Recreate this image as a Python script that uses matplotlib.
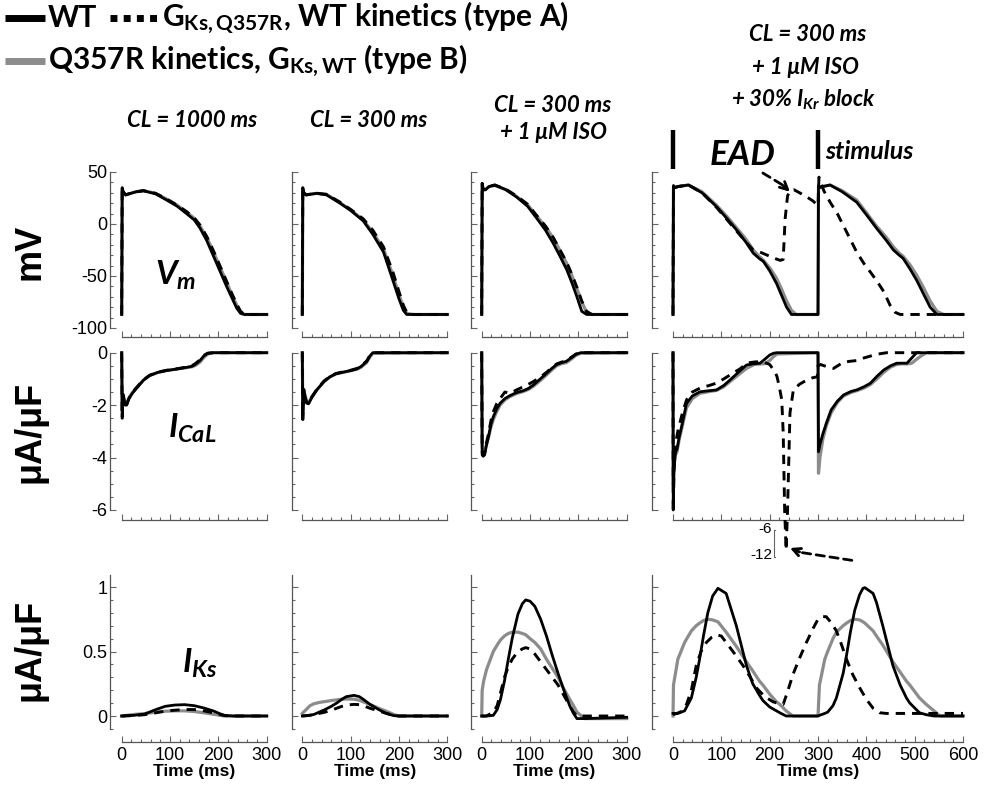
import matplotlib.pyplot as plt
import numpy as np
from matplotlib.ticker import MultipleLocator, FormatStrFormatter

plt.rcParams['font.family'] = ['Liberation Sans', 'DejaVu Sans']
plt.rcParams['mathtext.fontset'] = 'custom'
plt.rcParams['mathtext.it'] = 'Lato:italic:bold'
plt.rcParams['mathtext.rm'] = 'Lato:bold'
plt.rcParams['mathtext.bf'] = 'Lato:bold'

# ---------------- data ----------------
# row 1: membrane potential (mV)
t_v1 = [0, 1, 3, 8, 15, 30, 45, 70, 93, 115, 134, 150, 162, 176, 190, 204, 217, 228, 238, 246, 254, 270, 300]
v1_wt = [-87, 35, 31, 28, 29, 31, 32, 29, 23, 17, 10, 4, -4, -16, -31, -46, -60, -71, -81, -86, -87, -87, -87]
v1_a = [-87, 35, 31, 28, 29, 31, 32, 29.5, 24, 18, 12, 6, -1, -12, -26, -41, -55, -67, -77, -84, -87, -87, -87]
v1_b = [-87, 34, 31, 28, 29, 31, 32, 29.5, 24, 18, 11.5, 5.5, -2, -13, -27, -42, -56, -68, -78, -85, -87, -87, -87]

t_v2 = [0, 1, 3, 8, 15, 30, 50, 78, 100, 126, 146, 168, 188, 200, 209, 216, 230, 300]
v2_wt = [-87, 35, 30, 28, 28.5, 29.5, 28, 20, 13, 3, -10, -27, -55, -72, -83, -87, -87, -87]
v2_a = [-87, 35, 30, 28, 28.5, 29.5, 28.5, 21, 14, 5, -6, -22, -47, -65, -78, -85, -87, -87]
v2_b = [-87, 34, 30, 28, 28.5, 29.5, 28.5, 20.5, 13.5, 4, -8, -24, -50, -68, -80, -86, -87, -87]

t_v3 = [0, 1, 3, 8, 15, 27, 50, 72, 95, 114, 132, 148, 162, 176, 187, 197, 207, 217, 228, 300]
v3_wt = [-87, 39, 33, 33, 36, 37.5, 33, 26, 17, 5.4, -6, -18.6, -31, -44, -57, -70, -84, -87, -87, -87]
v3_a = [-87, 39, 33, 33, 36, 37.5, 33.5, 27, 19, 8, -2, -13, -25, -37, -49, -61, -74, -84, -87, -87]
v3_b = [-87, 38, 33, 33, 36, 37, 33, 26.5, 18.5, 7.5, -2.5, -13.5, -25.5, -38, -50, -62, -75, -85, -87, -87]

t_v4 = [0, 1, 4, 10, 32, 60, 90, 112, 132, 150, 166, 178, 187, 200, 214, 225, 235, 245, 255, 299,
        300, 301, 304, 310, 325, 350, 380, 400, 421, 440, 456, 468, 476, 490, 504, 518, 532, 546, 560, 600]
v4_wt = [-87, 37, 35, 36, 37.5, 30, 16.7, 5, -6, -17, -28, -33, -36, -45, -57, -69, -80, -87, -87, -87,
         -87, 37, 35, 36, 37.5, 31, 21, 9, -4, -15, -25, -30, -33, -43, -54, -67, -80, -87, -87, -87]
v4_b = [-87, 36, 35, 36, 37.5, 31, 18, 7, -4, -14, -25, -31, -35, -42, -52, -63, -74, -83, -87, -87,
        -87, 36, 35, 36, 37.5, 32, 23, 11, -2, -12, -22, -28, -31, -39, -49, -61, -74, -84, -87, -87]
t_v4a = [0, 1, 4, 10, 32, 60, 90, 112, 132, 150, 166, 180, 195, 210, 222, 228, 232, 237, 242, 250, 262, 277, 290, 299,
         300, 302, 306, 312, 325, 340, 353, 366, 380, 395, 408, 422, 436, 449, 460, 470, 600]
v4_a = [-87, 37, 35, 36, 37.5, 30, 16, 4, -7, -17, -25, -27, -30, -33, -35, -34, 5, 27, 32, 33, 30, 26, 22, 18,
        18, 45, 40, 32, 21, 10, -2, -14, -27, -38, -46, -55, -65, -78, -85, -87, -87]

# row 2: I_CaL (uA/uF)
t_c1 = [0, 1, 3, 5, 7, 10, 15, 22, 31, 45, 58, 75, 93, 115, 134, 145, 152, 162, 170, 178, 190, 300]
c1_wt = [0, -2.45, -1.6, -1.8, -2.0, -2.0, -1.75, -1.55, -1.35, -1.05, -0.87, -0.75, -0.68, -0.62, -0.56, -0.52, -0.45, -0.3, -0.12, -0.02, 0, 0]
c1_a = [0, -2.5, -1.7, -1.85, -2.05, -2.0, -1.75, -1.52, -1.32, -1.03, -0.86, -0.74, -0.67, -0.61, -0.55, -0.5, -0.42, -0.27, -0.1, -0.02, 0, 0]
c1_b = [0, -2.2, -1.6, -1.75, -1.95, -1.95, -1.72, -1.52, -1.33, -1.04, -0.87, -0.75, -0.68, -0.62, -0.57, -0.54, -0.49, -0.36, -0.18, -0.05, 0, 0]

t_c2 = [0, 1, 3, 6, 9, 13, 20, 30, 45, 57, 70, 85, 100, 113, 122, 133, 140, 146, 300]
c2_wt = [0, -2.5, -1.4, -1.7, -1.9, -1.95, -1.7, -1.42, -1.1, -0.92, -0.8, -0.74, -0.68, -0.62, -0.52, -0.34, -0.12, 0, 0]
c2_a = [0, -2.55, -1.5, -1.75, -1.92, -1.95, -1.68, -1.4, -1.08, -0.9, -0.79, -0.73, -0.67, -0.6, -0.5, -0.32, -0.1, 0, 0]
c2_b = [0, -2.2, -1.4, -1.65, -1.85, -1.9, -1.68, -1.42, -1.1, -0.93, -0.81, -0.75, -0.69, -0.63, -0.55, -0.38, -0.16, -0.02, 0]

t_c3 = [0, 1, 3, 6, 9, 14, 19, 24, 31, 38, 48, 58, 72, 86, 97, 107, 120, 134, 145, 155, 165, 175, 185, 195, 205, 300]
c3_wt = [0, -3.9, -3.95, -3.9, -3.6, -3.2, -2.75, -2.44, -2.15, -1.93, -1.75, -1.64, -1.52, -1.45, -1.36, -1.23, -1.02, -0.79, -0.6, -0.45, -0.38, -0.33, -0.2, -0.06, 0, 0]
c3_a = [0, -3.8, -3.9, -3.85, -3.5, -3.1, -2.6, -2.25, -1.95, -1.75, -1.5, -1.55, -1.42, -1.3, -1.2, -1.1, -0.95, -0.75, -0.57, -0.43, -0.36, -0.3, -0.18, -0.05, 0, 0]
c3_b = [0, -3.6, -3.8, -3.8, -3.55, -3.25, -2.85, -2.55, -2.25, -2.0, -1.8, -1.68, -1.56, -1.48, -1.4, -1.28, -1.08, -0.85, -0.66, -0.5, -0.42, -0.38, -0.25, -0.1, -0.02, 0]

t_c4 = [0, 0.5, 2, 5, 8, 13, 18, 28, 40, 56, 75, 90, 105, 118, 135, 152, 168, 180, 190, 200, 208, 215, 299,
        300, 301, 304, 310, 317, 327, 340, 353, 368, 380, 395, 408, 422, 436, 450, 463, 475, 484, 494, 504, 515, 525, 600]
c4_wt = [0, -6, -4.5, -3.8, -3.7, -3.2, -2.8, -1.93, -1.65, -1.49, -1.45, -1.42, -1.25, -1.04, -0.75, -0.47, -0.42, -0.4, -0.25, -0.09, -0.02, 0, 0,
         0, -3.78, -3.5, -3.1, -2.7, -2.19, -1.85, -1.61, -1.48, -1.42, -1.3, -1.17, -0.9, -0.66, -0.5, -0.4, -0.4, -0.4, -0.2, 0, 0, 0, 0]
c4_b = [0, -5, -4.2, -3.9, -3.8, -3.3, -2.9, -2.1, -1.75, -1.55, -1.48, -1.44, -1.3, -1.1, -0.85, -0.6, -0.45, -0.43, -0.42, -0.3, -0.15, -0.05, 0,
        0, -4.6, -4.0, -3.3, -2.8, -2.3, -1.9, -1.65, -1.52, -1.45, -1.35, -1.22, -1.0, -0.75, -0.55, -0.45, -0.42, -0.43, -0.4, -0.25, -0.1, 0, 0]
t_c4a = [0, 0.5, 2, 5, 10, 18, 28, 40, 56, 75, 90, 105, 124, 140, 152, 170, 187, 200, 210, 215,
         220, 225, 228, 231, 234, 237, 242, 249, 262, 277, 290, 299, 300, 305, 318, 332, 345, 352, 365, 380, 395, 408, 425, 442, 600]
c4_a = [0, -6, -4.5, -3.5, -3.0, -2.4, -1.8, -1.5, -1.35, -1.25, -1.16, -1.0, -0.78, -0.6, -0.4, -0.35, -0.35, -0.45, -0.7, -0.9,
        -1.3, -1.8, -3.05, -6, -12, -6, -2.3, -1.42, -1.2, -1.04, -0.95, -0.92, -0.5, -0.45, -0.53, -0.6, -0.45, -0.37, -0.33, -0.3, -0.2, -0.13, -0.05, 0, 0]

# row 3: I_Ks (uA/uF)
t_k1 = [0, 25, 47, 71, 90, 110, 130, 150, 170, 189, 205, 213, 230, 300]
k1_wt = [0, 0.005, 0.015, 0.05, 0.075, 0.085, 0.088, 0.08, 0.062, 0.04, 0.015, 0.005, 0, 0]
k1_a = [0, 0.003, 0.01, 0.025, 0.038, 0.045, 0.05, 0.05, 0.04, 0.025, 0.01, 0.003, 0, 0]
k1_b = [0, 0.012, 0.018, 0.03, 0.037, 0.04, 0.04, 0.035, 0.025, 0.014, 0.004, 0, 0, 0]

t_k2 = [0, 8, 16, 24, 35, 47, 60, 71, 82, 91, 107, 118, 126, 140, 158, 174, 189, 200, 300]
k2_wt = [0, 0.003, 0.006, 0.012, 0.03, 0.05, 0.075, 0.1, 0.13, 0.15, 0.16, 0.15, 0.13, 0.09, 0.05, 0.02, 0.003, 0, 0]
k2_a = [0, 0.002, 0.006, 0.01, 0.02, 0.03, 0.045, 0.06, 0.075, 0.085, 0.09, 0.088, 0.08, 0.06, 0.04, 0.02, 0.005, 0, 0]
k2_b = [0.02, 0.05, 0.08, 0.095, 0.105, 0.112, 0.12, 0.125, 0.13, 0.132, 0.13, 0.122, 0.11, 0.09, 0.06, 0.037, 0.012, 0, 0]

t_k3 = [0, 1, 4, 10, 24, 32, 39, 47, 55, 63, 75, 84, 91, 100, 110, 122, 134, 146, 158, 170, 182, 190, 197, 213, 300]
k3_wt = [0, 0, 0, 0, 0.005, 0.05, 0.13, 0.27, 0.44, 0.6, 0.79, 0.87, 0.9, 0.89, 0.85, 0.75, 0.62, 0.47, 0.33, 0.2, 0.08, 0.02, -0.02, -0.02, -0.01]
k3_a = [0, 0, 0, 0, 0.03, 0.08, 0.18, 0.3, 0.38, 0.44, 0.5, 0.52, 0.53, 0.52, 0.48, 0.42, 0.36, 0.3, 0.24, 0.16, 0.08, 0.03, 0, 0, 0]
k3_b = [0, 0.2, 0.27, 0.36, 0.5, 0.55, 0.59, 0.62, 0.64, 0.65, 0.65, 0.64, 0.63, 0.6, 0.57, 0.52, 0.44, 0.37, 0.3, 0.21, 0.13, 0.08, 0.03, -0.02, -0.02]

t_k4 = [0, 1, 10, 24, 38, 48, 55, 63, 72, 82, 93, 110, 131, 152, 165, 179, 186, 200, 214, 221,
        234, 248, 299, 300, 303, 314, 320, 331, 338, 352, 359, 367, 376, 386, 393, 397, 414, 421, 434, 455,
        470, 483, 490, 510, 524, 540, 552, 600]
k4_wt = [0.02, 0.02, 0.02, 0.04, 0.14, 0.3, 0.44, 0.62, 0.8, 0.93, 0.99, 0.95, 0.7, 0.39, 0.25, 0.16, 0.12, 0.07, 0.04, 0.025,
         0, 0, 0, 0, 0.005, 0.02, 0.03, 0.08, 0.14, 0.33, 0.47, 0.65, 0.82, 0.94, 0.99, 0.995, 0.95, 0.88, 0.7, 0.39,
         0.24, 0.14, 0.1, 0.025, 0.01, 0, 0, 0]
k4_b = [0, 0.24, 0.44, 0.57, 0.66, 0.7, 0.72, 0.74, 0.75, 0.745, 0.73, 0.65, 0.54, 0.42, 0.35, 0.27, 0.24, 0.17, 0.11, 0.09,
        0.04, 0, 0, 0, 0.24, 0.44, 0.5, 0.6, 0.65, 0.7, 0.72, 0.74, 0.75, 0.745, 0.73, 0.72, 0.66, 0.62, 0.55, 0.42,
        0.34, 0.27, 0.24, 0.14, 0.09, 0.04, 0, 0]
t_k4a = [0, 15, 28, 38, 48, 58, 69, 80, 90, 100, 110, 128, 145, 160, 172, 190, 207, 220, 228, 238,
         248, 262, 276, 290, 300, 310, 317, 328, 338, 348, 359, 372, 386, 400, 414, 428, 441, 600]
k4_a = [0.01, 0.03, 0.09, 0.2, 0.39, 0.5, 0.57, 0.61, 0.63, 0.62, 0.57, 0.48, 0.39, 0.3, 0.22, 0.15, 0.11, 0.095, 0.09, 0.2,
        0.32, 0.45, 0.57, 0.68, 0.75, 0.77, 0.77, 0.72, 0.66, 0.56, 0.44, 0.32, 0.22, 0.13, 0.06, 0.025, 0.02, 0.02]

# ---------------- layout ----------------
W, H = 987, 789
fig = plt.figure(figsize=(W / 100, H / 100), dpi=100)
GRAY = '#8c8c8c'
DASH = (0, (3.2, 2.4))

col_px = [(121.7, 266.7), (302.3, 447.3), (481.7, 626.7), (673, 963)]
col_off = [11.5, 10.5, 10.5, 21]
row_px = [(172, 328), (352.7, 510), (575.4, 728.9)]
row_off = [9, 10, 13]
row_lim = [(-100, 50), (-6, 0), (-0.1, 1.09)]
row_major = [50, 2, 0.5]
row_minor = [10, 0.5, 0.1]


def px_axes(x0, x1, y0, y1):
    return fig.add_axes([x0 / W, 1 - y1 / H, (x1 - x0) / W, (y1 - y0) / H])


def style(ax, row, col):
    tend = 600 if col == 3 else 300
    ax.set_xlim(0, tend)
    ax.set_ylim(*row_lim[row])
    ax.patch.set_visible(False)
    for s in ('top', 'right'):
        ax.spines[s].set_visible(False)
    ax.spines['left'].set_position(('outward', col_off[col] * 0.72))
    ax.spines['bottom'].set_position(('outward', row_off[row] * 0.72))
    ax.spines['bottom'].set_bounds(0, tend)
    for s in ('left', 'bottom'):
        ax.spines[s].set_color('#555555')
        ax.spines[s].set_linewidth(0.9)
    ax.xaxis.set_major_locator(MultipleLocator(100))
    ax.xaxis.set_minor_locator(MultipleLocator(20))
    ax.yaxis.set_major_locator(MultipleLocator(row_major[row]))
    ax.yaxis.set_minor_locator(MultipleLocator(row_minor[row]))
    ax.yaxis.set_major_formatter(FormatStrFormatter('%g'))
    ax.tick_params(which='both', direction='in', color='#666666', width=0.8, labelsize=13, pad=2)
    ax.tick_params(which='major', length=4)
    ax.tick_params(which='minor', length=2.5)
    if col > 0:
        ax.set_yticklabels([])
    if row < 2:
        ax.set_xticklabels([])
    else:
        ax.set_xlabel('Time (ms)', fontsize=12.5, fontweight='bold', labelpad=0)
        ax.tick_params(axis='x', pad=4)


def traces(ax, tw, wt, ta, a, tb, b, a_y=None):
    ax.plot(tb, b, color=GRAY, lw=2.3, zorder=2, clip_on=False)
    ax.plot(tw, wt, color='k', lw=2.0, zorder=3, clip_on=False)
    ax.plot(ta, a if a_y is None else a_y, color='k', lw=2.1, ls=DASH, zorder=4, clip_on=False)


panels = [
    [(t_v1, v1_wt, t_v1, v1_a, t_v1, v1_b), (t_v2, v2_wt, t_v2, v2_a, t_v2, v2_b),
     (t_v3, v3_wt, t_v3, v3_a, t_v3, v3_b), (t_v4, v4_wt, t_v4a, v4_a, t_v4, v4_b)],
    [(t_c1, c1_wt, t_c1, c1_a, t_c1, c1_b), (t_c2, c2_wt, t_c2, c2_a, t_c2, c2_b),
     (t_c3, c3_wt, t_c3, c3_a, t_c3, c3_b), (t_c4, c4_wt, t_c4a, c4_a, t_c4, c4_b)],
    [(t_k1, k1_wt, t_k1, k1_a, t_k1, k1_b), (t_k2, k2_wt, t_k2, k2_a, t_k2, k2_b),
     (t_k3, k3_wt, t_k3, k3_a, t_k3, k3_b), (t_k4, k4_wt, t_k4a, k4_a, t_k4, k4_b)],
]

axes = {}
for r in range(3):
    for c in range(4):
        ax = px_axes(col_px[c][0], col_px[c][1], row_px[r][0], row_px[r][1])
        style(ax, r, c)
        tw, wt, ta, a, tb, b = panels[r][c]
        a_y = None
        if r == 1 and c == 3:
            # values below -6 are drawn on a compressed scale under the axis
            arr = np.array(a, dtype=float)
            a_y = np.where(arr < -6, -6 + (arr + 6) * 0.255, arr)
        traces(ax, tw, wt, ta, a, tb, b, a_y)
        axes[(r, c)] = ax

ax_v4 = axes[(0, 3)]
ax_c4 = axes[(1, 3)]

# stimulus markers and EAD annotation
for ts in (0, 300):
    ax_v4.plot([ts, ts], [53, 90], color='k', lw=3.2, clip_on=False, solid_capstyle='butt')
ax_v4.text(145, 66, 'EAD', fontsize=25, fontweight='bold', style='italic', family='Lato',
           ha='center', va='center')
ax_v4.text(314, 70, 'stimulus', fontsize=18, fontweight='bold', style='italic', family='Lato',
           ha='left', va='center')
ax_v4.annotate('', xy=(232, 36), xytext=(186, 49), annotation_clip=False,
               arrowprops=dict(arrowstyle='-', ls=(0, (3, 2)), lw=2, color='k', shrinkA=0, shrinkB=0))
ax_v4.annotate('', xy=(242, 31), xytext=(228, 37), annotation_clip=False,
               arrowprops=dict(arrowstyle='->', lw=2, color='k', shrinkA=0, shrinkB=0, mutation_scale=14))

# compressed -6 / -12 scale under the I_CaL panel
ax_c4.plot([212, 209, 209, 212], [-6.75, -6.75, -7.8, -7.8], color='#666666', lw=0.8, clip_on=False)
ax_c4.text(205, -6.72, '-6', fontsize=11, ha='right', va='center')
ax_c4.text(205, -7.72, '-12', fontsize=11, ha='right', va='center')
ax_c4.annotate('', xy=(258, -7.6), xytext=(370, -7.92), annotation_clip=False,
               arrowprops=dict(arrowstyle='-', ls=(0, (3, 2)), lw=2, color='k', shrinkA=0, shrinkB=0))
ax_c4.annotate('', xy=(242, -7.45), xytext=(262, -7.6), annotation_clip=False,
               arrowprops=dict(arrowstyle='->', lw=2, color='k', shrinkA=0, shrinkB=0, mutation_scale=14))

# ---------------- text overlay ----------------
ov = fig.add_axes([0, 0, 1, 1])
ov.set_xlim(0, W)
ov.set_ylim(H, 0)
ov.axis('off')

lg = dict(fontsize=21.5, fontweight='bold', family='Lato', va='center', ha='left')
ov.plot([5, 45], [18, 18], color='k', lw=5, solid_capstyle='butt')
ov.text(48, 18, 'WT', **lg)
ov.plot([110, 160], [18, 18], color='k', lw=5, ls=(0, (1.0, 0.9)))
ov.text(162, 18, r'$\mathrm{G}_{\mathrm{Ks,Q357R}}$, WT kinetics (type A)', **lg)
ov.plot([5, 45], [61, 61], color=GRAY, lw=5, solid_capstyle='butt')
ov.text(48, 61, r'Q357R kinetics, $\mathrm{G}_{\mathrm{Ks,WT}}$ (type B)', **lg)

tt = dict(fontsize=16, fontweight='bold', style='italic', family='Lato', ha='center', va='center')
ov.text(192, 120, 'CL = 1000 ms', **tt)
ov.text(369, 120, 'CL = 300 ms', **tt)
ov.text(553, 105, 'CL = 300 ms', **tt)
ov.text(553, 132, '+ 1 μM ISO', **tt)
ov.text(808, 34, 'CL = 300 ms', **tt)
ov.text(805, 67, '+ 1 μM ISO', **tt)
ov.text(804, 100, r'+ 30% $I_{Kr}$ block', **tt)

yl = dict(fontsize=26, fontweight='bold', rotation=90, ha='center', va='center')
ov.text(30, 252, 'mV', **yl)
ov.text(30, 432, 'μA/μF', **yl)
ov.text(30, 650, 'μA/μF', **yl)

ov.text(176, 275, r'$V_m$', fontsize=24, ha='center', va='center')
ov.text(192, 428, r'$I_{CaL}$', fontsize=24, ha='center', va='center')
ov.text(200, 663, r'$I_{Ks}$', fontsize=24, ha='center', va='center')

fig.savefig('out.png', dpi=100, facecolor='white')
